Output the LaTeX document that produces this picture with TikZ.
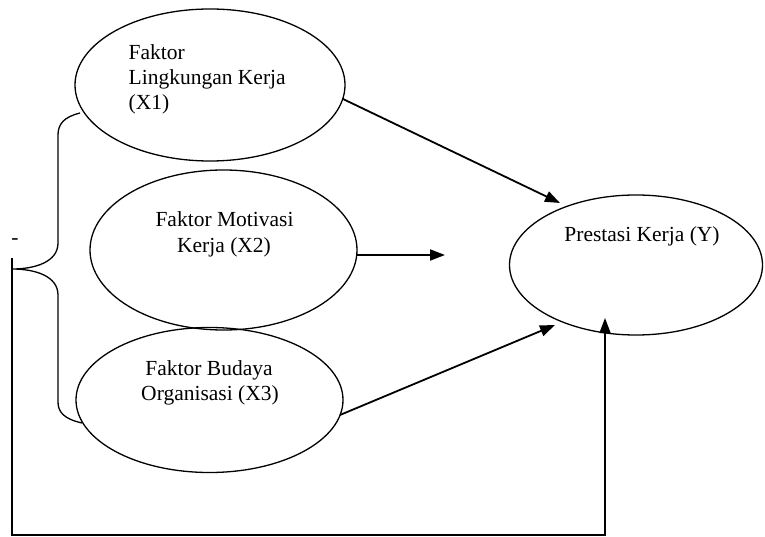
\documentclass[tikz,border=0pt]{standalone}
\usepackage{fontspec}
\setmainfont{Liberation Serif}
\usetikzlibrary{shapes.geometric,arrows.meta}
\begin{document}
\begin{tikzpicture}[x=1pt,y=-1pt,
  line width=1.3pt,
  oval/.style={draw,ellipse,inner sep=0pt},
  lbl/.style={inner sep=0pt,font=\fontsize{21.5}{25}\selectfont},
  arr/.style={line width=1.8pt,-{Triangle[length=15pt,width=11pt]}}]
\useasboundingbox (0,0) rectangle (765,537);

% ellipses
\node[oval,minimum width=270pt,minimum height=152pt] (x1) at (210,85) {};
\node[oval,minimum width=267pt,minimum height=160pt] (x2) at (223.5,250) {};
\node[oval,minimum width=267pt,minimum height=145pt] (x3) at (209.5,400) {};
\node[oval,minimum width=253pt,minimum height=140pt] (y) at (636,265) {};

% labels
\node[lbl,anchor=base west] (t1a) at (128,60) {Faktor};
\node[lbl,anchor=base west] (t1b) at (128,85) {Lingkungan Kerja};
\node[lbl,anchor=base west] (t1c) at (128,110) {(X1)};
\node[lbl,anchor=base] (t2a) at (224.5,227) {Faktor Motivasi};
\node[lbl,anchor=base] (t2b) at (224,253) {Kerja (X2)};
\node[lbl,anchor=base] (t3a) at (209,375) {Faktor Budaya};
\node[lbl,anchor=base] (t3b) at (210,400) {Organisasi (X3)};
\node[lbl,anchor=base] (ty) at (642,242) {Prestasi Kerja (Y)};
\node[lbl,anchor=base] (dash) at (15,244) {-};

% brace
\coordinate (b1) at (80,113);
\coordinate (b2) at (12,269);
\coordinate (b3) at (82,423);
\draw (b1) .. controls (64,117) and (58,124) .. (58,135) -- (58,243)
      .. controls (58,262) and (35,269) .. (b2)
      .. controls (35,269) and (58,276) .. (58,295) -- (58,402)
      .. controls (58,412) and (64,419) .. (b3);

% arrows
\coordinate (a1s) at (343,99);
\coordinate (a1e) at (560,203);
\coordinate (a2s) at (357,255);
\coordinate (a2e) at (445,255);
\coordinate (a3s) at (340,415);
\coordinate (a3e) at (555,325);
\draw[arr] (a1s) -- (a1e);
\draw[arr] (a2s) -- (a2e);
\draw[arr] (a3s) -- (a3e);

% bottom loop
\coordinate (l0) at (12,258);
\coordinate (l1) at (12,535);
\coordinate (l2) at (605,535);
\coordinate (l3) at (605,318);
\draw[arr,line width=1.4pt] (l0) -- (l1) -- (l2) -- (l3);
\end{tikzpicture}
\end{document}
